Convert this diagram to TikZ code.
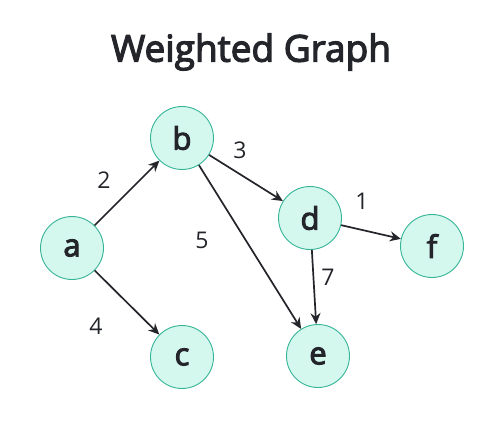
\documentclass[tikz,border=0pt]{standalone}
\usepackage{fontspec}
\setmainfont{Open Sans}
\newfontfamily\semibold{Open Sans}[FakeBold=3.2]
\usetikzlibrary{arrows.meta,positioning}
\definecolor{vfill}{HTML}{D4F7EE}
\definecolor{vline}{HTML}{35B597}
\definecolor{ink}{HTML}{23252A}
\tikzset{
  vert/.style={circle,draw=vline,line width=0.9pt,fill=vfill,minimum size=63pt,inner sep=0pt,font=\semibold\fontsize{31}{31}\selectfont,text=ink},
  wt/.style={font=\fontsize{23}{23}\selectfont,text=ink,inner sep=0pt},
  arc/.style={-{Stealth[length=11pt,width=10pt]},draw=ink,line width=1.7pt}
}
\begin{document}
\begin{tikzpicture}[x=1pt,y=-1pt]
\useasboundingbox[fill=white] (0,0) rectangle (502,430);
\node[font=\semibold\fontsize{37}{37}\selectfont,text=ink] (title) at (251,52) {Weighted Graph};
% vertices
\node[vert] (a) at (72,248) {a};
\node[vert] (b) at (182,138) {b};
\node[vert] (c) at (182,357) {c};
\node[vert] (d) at (310,218) {d};
\node[vert] (e) at (318,356) {e};
\node[vert] (f) at (432,246) {f};
% edges
\draw[arc] (a) -- (b);
\draw[arc] (a) -- (c);
\draw[arc] (b) -- (d);
\draw[arc] (b) -- (e);
\draw[arc] (d) -- (f);
\draw[arc] (d) -- (e);
% weights
\node[wt] (wab) at (104,180) {2};
\node[wt] (wac) at (96,326) {4};
\node[wt] (wbd) at (240,150) {3};
\node[wt] (wbe) at (202,240) {5};
\node[wt] (wdf) at (362,201) {1};
\node[wt] (wde) at (328,277) {7};
\end{tikzpicture}
\end{document}
